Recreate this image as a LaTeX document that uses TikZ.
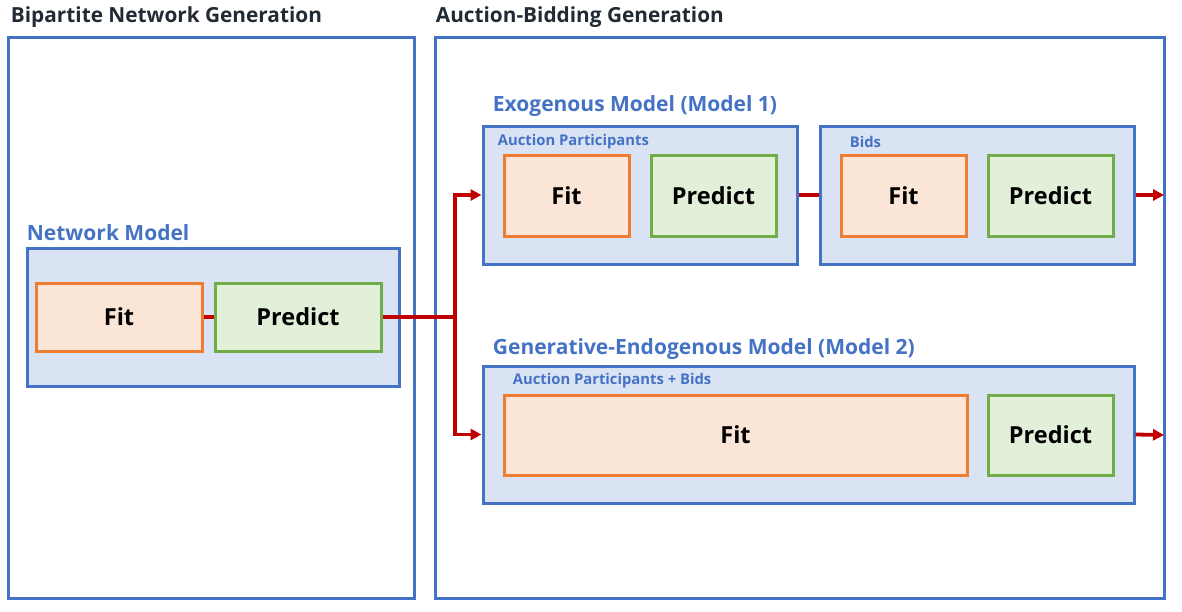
\documentclass[tikz,border=0pt]{standalone}
\usepackage{fontspec}
\setmainfont{Open Sans}
\usetikzlibrary{shapes,arrows,arrows.meta,calc}
\definecolor{blu}{HTML}{4472C4}
\definecolor{bluefill}{HTML}{DAE3F3}
\definecolor{orng}{HTML}{ED7D31}
\definecolor{orngfill}{HTML}{FBE5D6}
\definecolor{grn}{HTML}{70AD47}
\definecolor{grnfill}{HTML}{E2F0D9}
\definecolor{rd}{HTML}{C00000}
\definecolor{ttl}{HTML}{222A35}
\tikzstyle{outer} = [rectangle, draw=blu, line width=3pt, inner sep=0pt]
\tikzstyle{model} = [rectangle, draw=blu, fill=bluefill, line width=3pt, inner sep=0pt]
\tikzstyle{fitbox} = [rectangle, draw=orng, fill=orngfill, line width=3pt,
    inner sep=0pt, text=black, font=\bfseries\fontsize{23.5}{23.5}\selectfont]
\tikzstyle{predbox} = [rectangle, draw=grn, fill=grnfill, line width=3pt,
    inner sep=0pt, text=black, font=\bfseries\fontsize{23.5}{23.5}\selectfont]
\tikzstyle{title} = [anchor=west, inner sep=0pt, text=ttl, font=\bfseries\fontsize{20.8}{20.8}\selectfont]
\tikzstyle{mlabel} = [anchor=west, inner sep=0pt, text=blu, font=\bfseries\fontsize{21}{21}\selectfont]
\tikzstyle{slabel} = [anchor=west, inner sep=0pt, text=blu, font=\bfseries\fontsize{14.8}{14.8}\selectfont]

\begin{document}
\begin{tikzpicture}[x=1pt,y=-1pt,line width=3.8pt,rd,
                    >={Triangle[length=11pt,width=11pt]}]
  \useasboundingbox (0,0) rectangle (1182,611);

  % two stages
  \node[outer, minimum width=406, minimum height=561] (L) at (211,317.5) {};
  \node[outer, minimum width=729, minimum height=561] (R) at (799.5,317.5) {};
  \node[title] (tL) at (9,17) {Bipartite Network Generation};
  \node[title] (tR) at (434,17) {Auction-Bidding Generation};

  % network model
  \node[mlabel] (lnet) at (25,233) {Network Model};
  \node[model, minimum width=372, minimum height=138] (net) at (213,317) {};
  \node[fitbox, minimum width=166, minimum height=68] (f1) at (119,317) {Fit};
  \node[predbox, minimum width=166, minimum height=68] (p1) at (298,317) {Predict};

  % model 1
  \node[mlabel] (lexo) at (491,106) {Exogenous Model (Model 1)};
  \node[model, minimum width=314, minimum height=138] (ap) at (640,195) {};
  \node[slabel] (lap) at (496,141.5) {Auction Participants};
  \node[fitbox, minimum width=125, minimum height=81] (f2) at (566.5,195.5) {Fit};
  \node[predbox, minimum width=125, minimum height=81] (p2) at (713.5,195.5) {Predict};
  \node[model, minimum width=314, minimum height=138] (bd) at (977,195) {};
  \node[slabel] (lbd) at (848,141.5) {Bids};
  \node[fitbox, minimum width=125, minimum height=81] (f3) at (903.5,195.5) {Fit};
  \node[predbox, minimum width=125, minimum height=81] (p3) at (1050.5,195.5) {Predict};

  % model 2
  \node[mlabel] (lgen) at (491,349) {Generative-Endogenous Model (Model 2)};
  \node[model, minimum width=651, minimum height=137] (gen) at (808.5,434.5) {};
  \node[slabel] (lgn) at (511,380.5) {Auction Participants + Bids};
  \node[fitbox, minimum width=463, minimum height=80] (f4) at (735.5,435) {Fit};
  \node[predbox, minimum width=125, minimum height=80] (p4) at (1050.5,435) {Predict};

  \coordinate (j) at (455,317);
  \coordinate (o1) at (1164,195);
  \coordinate (o2) at (1164,435);

  \draw (f1.east) -- (p1.west);
  \draw (p1.east) -- (j);
  \draw[->] (j) |- (ap.west);
  \draw[->] (j) |- (gen.west);
  \draw (ap.east) -- (bd.west);
  \draw[->] (bd.east) -- (o1);
  \draw[->] (gen.east) -- (o2);
\end{tikzpicture}
\end{document}
